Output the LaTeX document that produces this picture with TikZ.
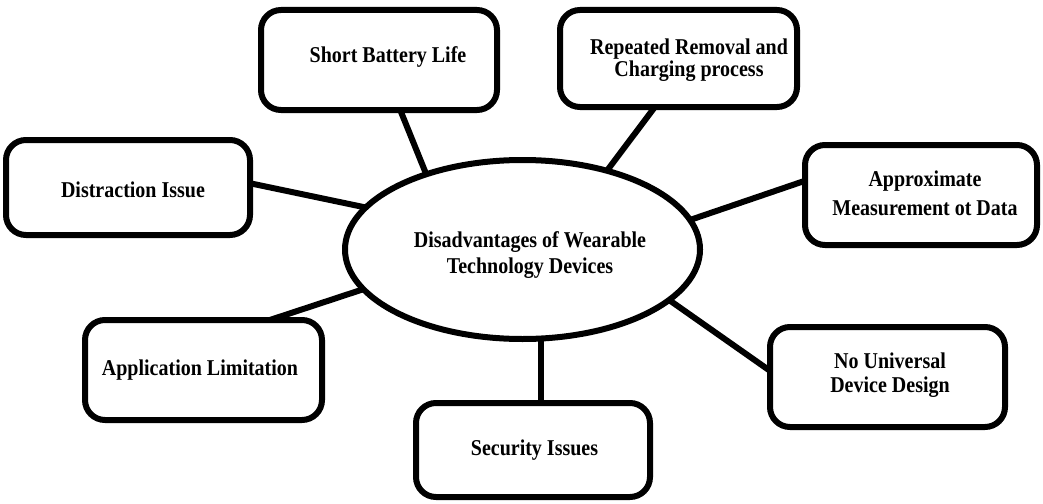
\documentclass[tikz,border=0pt]{standalone}
\usepackage{graphicx}
\usepackage{fontspec}
\setmainfont{Liberation Serif}
\usetikzlibrary{shapes.geometric}
% slightly taller lettering
\newcommand{\tallline}[1]{\scalebox{1}[1.13]{#1}}
\begin{document}
\begin{tikzpicture}[x=1pt,y=-1pt,
  every node/.style={outer sep=0pt},
  issuebox/.style={draw=black,line width=6pt,rounded corners=20pt,fill=white,
    inner sep=0pt,minimum width=#1,minimum height=100pt},
  issuebox/.default=236pt,
  hub/.style={draw=black,line width=6pt,ellipse,fill=white,inner sep=0pt,
    minimum width=355pt,minimum height=179pt},
  lbl/.style={anchor=base,align=center,inner sep=0pt,
    font=\bfseries\fontsize{20}{26}\selectfont},
  link/.style={line width=6pt,draw=black}]
\useasboundingbox (0,0) rectangle (1043,503);
\fill[white] (0,0) rectangle (1043,503);

% central ellipse and the surrounding issue boxes
\node[hub] (hub) at (522.5,249.5) {};
\node[issuebox=236pt] (battery) at (379,60) {};
\node[issuebox=237pt,minimum height=97pt] (removal) at (678.5,58.5) {};
\node[issuebox=244pt,minimum height=95pt] (distract) at (128,187.5) {};
\node[issuebox=232pt] (approx) at (921,195) {};
\node[issuebox=237pt] (applim) at (203.5,370) {};
\node[issuebox=234pt,minimum height=94pt] (security) at (533,450) {};
\node[issuebox=235pt] (universal) at (887.5,377) {};

% connectors from each box to the ellipse
\draw[link] (battery.-67) -- (hub.142);
\draw[link] (removal.-116) -- (hub.43);
\draw[link] (distract.2) -- (hub.165.7);
\draw[link] (approx.173.6) -- (hub.10.5);
\draw[link] (applim.37) -- (hub.194.2);
\draw[link] (security.80.3) -- (security.80.3 |- hub.south);
\draw[link] (universal.177.6) -- (hub.-19.9);

% labels (base anchor sits on the last line's baseline)
\node[lbl] (hubtext) at (530,273) {\tallline{Disadvantages of Wearable}\\\tallline{Technology Devices}};
\node[lbl] (batterytext) at (388,63) {\tallline{Short Battery Life}};
\node[lbl,font=\bfseries\fontsize{20}{22}\selectfont] (removaltext) at (689,77) {\tallline{Repeated Removal and}\\\tallline{Charging process}};
\node[lbl] (distracttext) at (133,197) {\tallline{Distraction Issue}};
\node[lbl,font=\bfseries\fontsize{20}{29}\selectfont] (approxtext) at (925,215) {\tallline{Approximate}\\\tallline{Measurement ot Data}};
\node[lbl] (applimtext) at (200,375) {\tallline{Application Limitation}};
\node[lbl] (securitytext) at (534.5,455) {\tallline{Security Issues}};
\node[lbl,font=\bfseries\fontsize{20}{24}\selectfont] (universaltext) at (890,392) {\tallline{No Universal}\\\tallline{Device Design}};
\end{tikzpicture}
\end{document}
